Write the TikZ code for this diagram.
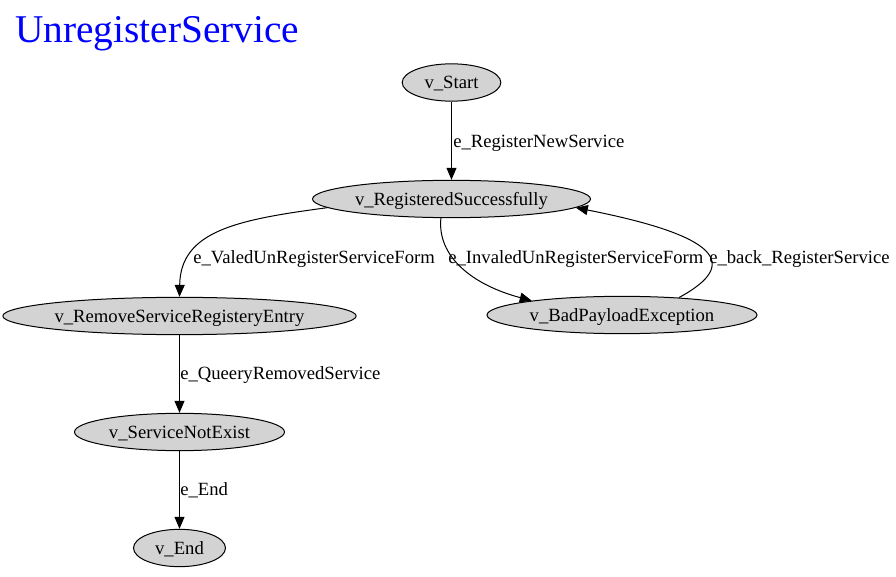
\documentclass[tikz,border=0pt]{standalone}
\usepackage{fontspec}
\setmainfont{Liberation Serif}
\usetikzlibrary{shapes.geometric,arrows.meta}
\definecolor{nodegray}{HTML}{D3D3D3}
\definecolor{titleblue}{HTML}{0000FF}
\begin{document}
\begin{tikzpicture}[x=0.75pt,y=-0.75pt,
  state/.style={ellipse,draw=black,fill=nodegray,line width=0.75pt,inner sep=0pt,
    minimum height=28pt,text height=9.3pt,text depth=0pt,font=\fontsize{14pt}{16pt}\selectfont},
  elabel/.style={anchor=west,inner sep=0pt,text height=9.3pt,text depth=0pt,font=\fontsize{14pt}{16pt}\selectfont},
  edge/.style={draw=black,line width=0.75pt,-{Triangle[length=9pt,width=7.5pt]}}]
\useasboundingbox (0,0) rectangle (896,577);
\node[anchor=base west,inner sep=0pt,text=titleblue,font=\fontsize{29.5pt}{32pt}\selectfont] (title) at (15,43) {UnregisterService};
\node[state,minimum width=74pt] (st) at (451.5,82.5) {v\_Start};
\node[state,minimum width=208.5pt] (rs) at (451.5,199) {v\_RegisteredSuccessfully};
\node[state,minimum width=262.5pt] (rm) at (179.5,316) {v\_RemoveServiceRegisteryEntry};
\node[state,minimum width=202.5pt] (bp) at (622,315) {v\_BadPayloadException};
\node[state,minimum width=157.5pt] (sn) at (179.5,432) {v\_ServiceNotExist};
\node[state,minimum width=69pt] (en) at (179.5,548) {v\_End};
\node[elabel] (l1) at (453,141) {e\_RegisterNewService};
\node[elabel] (l2) at (193,257) {e\_ValedUnRegisterServiceForm};
\node[elabel] (l3) at (448,257) {e\_InvaledUnRegisterServiceForm};
\node[elabel] (l4) at (709,257) {e\_back\_RegisterService};
\node[elabel] (l5) at (180,373) {e\_QueeryRemovedService};
\node[elabel] (l6) at (180,489) {e\_End};
\draw[edge] (st) -- (rs);
\draw[edge] (rs.184) .. controls +(-90,12) and +(1,-66) .. (rm.north);
\draw[edge] (rs.241) .. controls +(-4,38) and +(-60,-16) .. (bp.171);
\draw[edge] (bp.17.5) .. controls +(63,-34) and +(142,28) .. (rs.356.5);
\draw[edge] (rm) -- (sn);
\draw[edge] (sn) -- (en);
\end{tikzpicture}
\end{document}
